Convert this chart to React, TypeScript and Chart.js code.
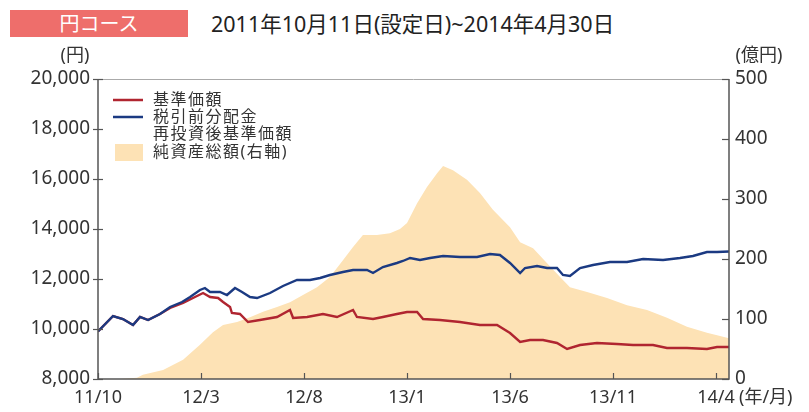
import React, { useEffect, useRef } from "react";
import { Chart, registerables } from "chart.js";
Chart.register(...registerables);

// x = months since 2011/10/11 (設定日)
const tickMonths = [0, 5, 10, 15, 20, 25, 30];
const tickLabels = ["11/10", "12/3", "12/8", "13/1", "13/6", "13/11", "14/4"];
const endMonth = 30.63;

const blueMonths = [0, 0.73, 1.21, 1.7, 2.04, 2.43, 3.01, 3.5, 4.08, 4.47, 4.95, 5.19, 5.44, 5.92, 6.26, 6.65, 6.99, 7.38, 7.72, 8.35, 8.98, 9.66, 10.29, 10.78, 11.26, 11.89, 12.38, 13.06, 13.35, 13.83, 14.51, 14.8, 15.15, 15.63, 16.12, 16.75, 17.57, 18.4, 19.03, 19.51, 20.0, 20.49, 20.73, 21.31, 21.8, 22.28, 22.57, 22.91, 23.4, 24.03, 24.85, 25.68, 26.46, 27.43, 28.25, 28.88, 29.56, 30.05, 30.63];
const blueValues = [9900, 10520, 10400, 10160, 10480, 10360, 10600, 10880, 11080, 11280, 11560, 11640, 11480, 11480, 11360, 11640, 11480, 11280, 11240, 11440, 11720, 11960, 11960, 12040, 12160, 12280, 12360, 12360, 12240, 12480, 12640, 12720, 12840, 12760, 12840, 12920, 12880, 12880, 13000, 12960, 12640, 12240, 12440, 12520, 12440, 12440, 12160, 12120, 12440, 12560, 12680, 12680, 12800, 12760, 12840, 12920, 13080, 13080, 13100];

const redMonths = [0, 0.73, 1.21, 1.7, 2.04, 2.43, 3.01, 3.5, 4.13, 4.61, 5.1, 5.44, 5.83, 6.07, 6.41, 6.5, 6.89, 7.28, 7.86, 8.69, 9.32, 9.47, 10.15, 10.92, 11.6, 12.38, 12.57, 13.35, 13.83, 14.51, 15.0, 15.49, 15.78, 16.6, 17.57, 18.54, 19.37, 20.0, 20.49, 20.97, 21.6, 22.28, 22.77, 23.4, 24.22, 25.19, 25.97, 26.94, 27.62, 28.59, 29.56, 30.05, 30.63];
const redValues = [9900, 10520, 10400, 10160, 10480, 10360, 10600, 10840, 11040, 11240, 11440, 11280, 11240, 11080, 10880, 10640, 10600, 10280, 10360, 10480, 10760, 10440, 10480, 10600, 10480, 10760, 10480, 10400, 10480, 10600, 10680, 10680, 10400, 10360, 10280, 10160, 10160, 9840, 9480, 9560, 9560, 9440, 9200, 9360, 9440, 9400, 9360, 9360, 9240, 9240, 9200, 9280, 9280];

const areaMonths = [0, 1.07, 1.89, 2.18, 3.16, 4.13, 4.95, 5.58, 6.07, 6.75, 7.38, 8.01, 8.69, 9.32, 9.95, 10.63, 11.26, 11.89, 12.38, 12.86, 13.54, 14.17, 14.66, 15.0, 15.49, 15.97, 16.46, 16.75, 17.23, 17.91, 18.54, 19.17, 20.0, 20.49, 21.12, 21.8, 22.43, 22.91, 23.74, 24.71, 25.68, 26.65, 27.62, 28.59, 29.56, 30.05, 30.63];
const areaValues = [0, 0, 2, 7, 15, 32, 57, 78, 90, 95, 103, 112, 120, 128, 140, 153, 170, 198, 220, 240, 240, 243, 250, 260, 293, 320, 343, 355, 348, 332, 310, 282, 253, 228, 218, 193, 170, 153, 145, 135, 123, 115, 102, 87, 77, 73, 68];

const legendLabels = ["基準価額", "税引前分配金", "再投資後基準価額", "純資産総額(右軸)"];

const RED = "#B02530";
const BLUE = "#1B3A82";
const AREA = "#FDE2B5";
const TEXT = "#333333";
const FONT = '"Noto Sans", "Noto Sans CJK JP", sans-serif';

const pts = (xs: number[], ys: number[]) => xs.map((x, i) => ({ x, y: ys[i] }));

const decorPlugin = {
  id: "decor",
  afterDatasetsDraw(chart: any) {
    const ctx = chart.ctx;
    const { left, right, top, bottom } = chart.chartArea;
    ctx.save();
    ctx.strokeStyle = "#aaaaaa";
    ctx.lineWidth = 1;
    ctx.beginPath();
    ctx.moveTo(left, top + 0.5);
    ctx.lineTo(right, top + 0.5);
    ctx.stroke();
    ctx.strokeStyle = "#555555";
    ctx.lineWidth = 1.5;
    ctx.beginPath();
    ctx.moveTo(left, top);
    ctx.lineTo(left, bottom);
    ctx.lineTo(right, bottom);
    ctx.lineTo(right, top);
    ctx.stroke();
    ctx.lineWidth = 1.2;
    const y = chart.scales.y;
    y.ticks.forEach((t: any) => {
      const py = Math.round(y.getPixelForValue(t.value)) + 0.5;
      ctx.beginPath();
      ctx.moveTo(left - 5, py);
      ctx.lineTo(left + 5, py);
      ctx.stroke();
    });
    const y1 = chart.scales.y1;
    y1.ticks.forEach((t: any) => {
      const py = Math.round(y1.getPixelForValue(t.value)) + 0.5;
      ctx.beginPath();
      ctx.moveTo(right - 7, py);
      ctx.lineTo(right, py);
      ctx.stroke();
    });
    const x = chart.scales.x;
    x.ticks.forEach((t: any) => {
      const px = Math.round(x.getPixelForValue(t.value)) + 0.5;
      ctx.beginPath();
      ctx.moveTo(px, bottom - 6);
      ctx.lineTo(px, bottom);
      ctx.stroke();
    });
    ctx.fillStyle = TEXT;
    ctx.font = `18px ${FONT}`;
    ctx.textBaseline = "middle";
    ctx.textAlign = "center";
    ctx.fillText("(円)", 75, 56);
    ctx.fillText("(億円)", 759, 56);
    ctx.textAlign = "left";
    ctx.fillText("(年/月)", 739, 398);
    // legend
    ctx.lineWidth = 2.5;
    ctx.strokeStyle = RED;
    ctx.beginPath();
    ctx.moveTo(113, 100);
    ctx.lineTo(143, 100);
    ctx.stroke();
    ctx.strokeStyle = BLUE;
    ctx.beginPath();
    ctx.moveTo(113, 117);
    ctx.lineTo(143, 117);
    ctx.stroke();
    ctx.fillStyle = AREA;
    ctx.fillRect(115, 144, 28, 17);
    ctx.fillStyle = TEXT;
    ctx.font = `16px ${FONT}`;
    try {
      (ctx as any).letterSpacing = "1.5px";
    } catch (e) {}
    ctx.fillText(legendLabels[0], 153, 100);
    ctx.fillText(legendLabels[1], 153, 117);
    ctx.fillText(legendLabels[2], 153, 134);
    ctx.fillText(legendLabels[3], 153, 152);
    ctx.restore();
  },
};

export default function App() {
  const ref = useRef<HTMLCanvasElement>(null);
  useEffect(() => {
    if (!ref.current) return;
    const chart = new Chart(ref.current, {
      type: "line",
      data: {
        datasets: [
          {
            label: legendLabels[1] + legendLabels[2],
            data: pts(blueMonths, blueValues),
            borderColor: BLUE,
            borderWidth: 2.4,
            pointRadius: 0,
            yAxisID: "y",
            order: 0,
            fill: false,
          },
          {
            label: legendLabels[0],
            data: pts(redMonths, redValues),
            borderColor: RED,
            borderWidth: 2.4,
            pointRadius: 0,
            yAxisID: "y",
            order: 1,
            fill: false,
          },
          {
            label: legendLabels[3],
            data: pts(areaMonths, areaValues),
            borderWidth: 0,
            borderColor: AREA,
            backgroundColor: AREA,
            pointRadius: 0,
            yAxisID: "y1",
            order: 2,
            fill: "origin",
          },
        ],
      },
      options: {
        animation: false,
        responsive: false,
        devicePixelRatio: 1,
        layout: { padding: { top: 79, left: 0, right: 0, bottom: 0 } },
        plugins: { legend: { display: false }, tooltip: { enabled: false } },
        scales: {
          x: {
            type: "linear",
            min: 0,
            max: endMonth,
            afterBuildTicks: (axis: any) => {
              axis.ticks = tickMonths.map((v) => ({ value: v }));
            },
            afterFit: (s: any) => {
              s.height = 33;
            },
            grid: { display: false, drawTicks: false, tickLength: 0 },
            border: { display: false },
            ticks: {
              autoSkip: false,
              maxRotation: 0,
              padding: 8,
              color: TEXT,
              font: { family: FONT, size: 18 },
              callback: (v: any) => {
                const i = tickMonths.indexOf(Number(v));
                return i >= 0 ? tickLabels[i] : "";
              },
            },
          },
          y: {
            position: "left",
            min: 8000,
            max: 20000,
            afterFit: (s: any) => {
              s.width = 98;
            },
            grid: { display: false, drawTicks: false, tickLength: 0 },
            border: { display: false },
            ticks: {
              stepSize: 2000,
              padding: 8,
              color: TEXT,
              font: { family: FONT, size: 19 },
              callback: (v: any) => Number(v).toLocaleString("en-US"),
            },
          },
          y1: {
            position: "right",
            min: 0,
            max: 500,
            afterFit: (s: any) => {
              s.width = 80;
            },
            grid: { display: false, drawTicks: false, tickLength: 0 },
            border: { display: false },
            ticks: {
              stepSize: 100,
              padding: 6,
              color: TEXT,
              font: { family: FONT, size: 19 },
            },
          },
        },
      },
      plugins: [decorPlugin],
    });
    return () => chart.destroy();
  }, []);

  return (
    <div style={{ position: "absolute", left: 0, top: 0, width: 809, height: 412, background: "#fff", fontFamily: FONT }}>
      <div
        style={{
          position: "absolute",
          left: 10,
          top: 10,
          width: 178,
          height: 27,
          background: "#EE6E6B",
          color: "#fff",
          fontSize: 20,
          lineHeight: "27px",
          textAlign: "center",
        }}
      >
        円コース
      </div>
      <div style={{ position: "absolute", left: 211, top: 10, fontSize: 21.5, lineHeight: "27px", color: "#222", whiteSpace: "nowrap" }}>
        2011年10月11日(設定日)~2014年4月30日
      </div>
      <canvas ref={ref} width={809} height={412} style={{ position: "absolute", left: 0, top: 0 }} />
    </div>
  );
}
